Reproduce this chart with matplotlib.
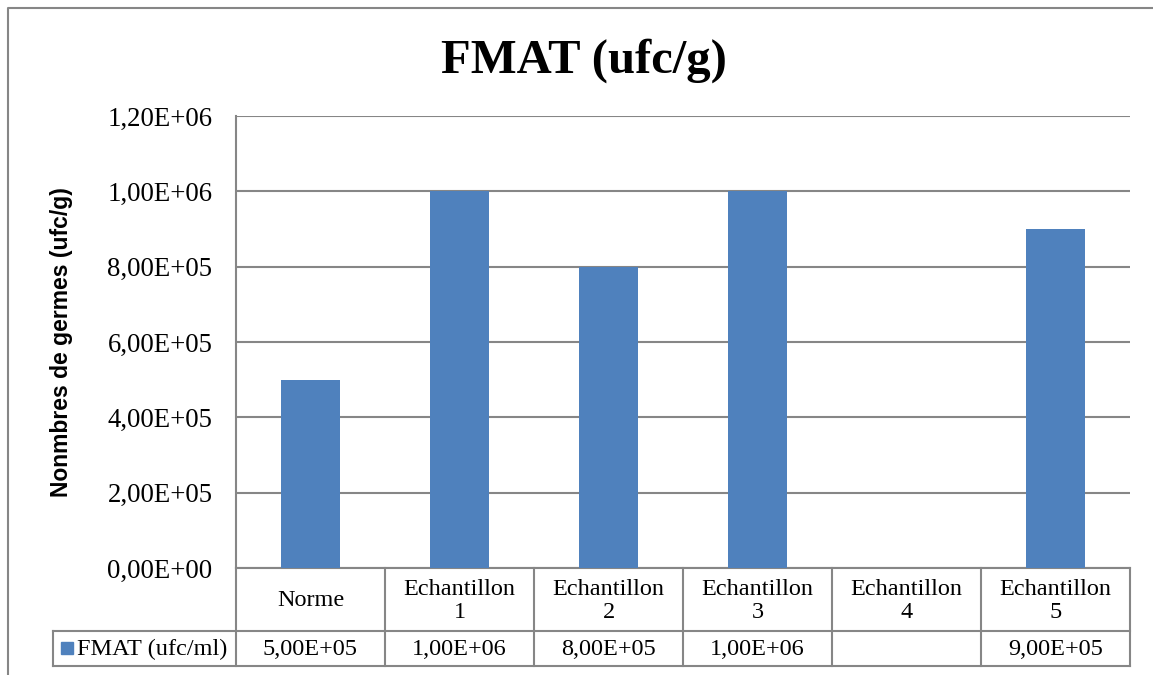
import numpy as np
import matplotlib
matplotlib.use("Agg")
import matplotlib.pyplot as plt
from matplotlib.lines import Line2D
from matplotlib.patches import Rectangle
from matplotlib.ticker import FixedLocator, FuncFormatter

# Data
categories = ["Norme", "Echantillon\n1", "Echantillon\n2", "Echantillon\n3",
              "Echantillon\n4", "Echantillon\n5"]
fmat_values = [5.0e5, 1.0e6, 8.0e5, 1.0e6, np.nan, 9.0e5]
series_name = "FMAT (ufc/ml)"
y_ticks = [0, 2e5, 4e5, 6e5, 8e5, 1.0e6, 1.2e6]

title = "FMAT (ufc/g)"
y_label = "Nonmbres de germes (ufc/g)"

BAR_COLOR = "#4F81BD"
GRID_COLOR = "#868686"
SERIF = ["Liberation Serif", "DejaVu Serif"]
SANS = ["Liberation Sans", "DejaVu Sans"]


def sci_fr(v):
    return f"{v:.2E}".replace(".", ",")


W, H = 1153, 675
fig = plt.figure(figsize=(W / 100, H / 100), dpi=100)
fig.patch.set_facecolor("white")


def fx(px):
    return px / W


def fy(py):
    return 1 - py / H


# Outer chart frame
fig.add_artist(Line2D([fx(8), fx(8), fx(W + 5)], [fy(H + 5), fy(8), fy(8)],
                      transform=fig.transFigure, color=GRID_COLOR, lw=1.5))

left, right, top, bottom = 236, 1130, 116, 568
ax = fig.add_axes([fx(left), fy(bottom), fx(right) - fx(left), fy(top) - fy(bottom)])

n = len(categories)
x = np.arange(n)
ax.bar(x, fmat_values, width=0.4, color=BAR_COLOR, zorder=3)

ax.set_xlim(-0.5, n - 0.5)
ax.set_ylim(0, 1.2e6)
ax.yaxis.set_major_locator(FixedLocator(y_ticks))
ax.yaxis.set_major_formatter(FuncFormatter(lambda v, p: sci_fr(v)))
ax.set_xticks([])
ax.tick_params(axis="y", length=0, pad=17, labelsize=19.3)
for lab in ax.get_yticklabels():
    lab.set_fontfamily(SERIF)
ax.grid(axis="y", color=GRID_COLOR, lw=1.5, zorder=0)
for s in ["top", "right", "bottom"]:
    ax.spines[s].set_visible(False)
ax.spines["left"].set_color(GRID_COLOR)
ax.spines["left"].set_linewidth(1.5)

fig.text(fx(584), fy(73), title, ha="center", va="baseline",
         fontsize=35, fontweight="bold", family=SERIF)
fig.text(fx(62), fy(342), y_label, ha="center", va="center", rotation=90,
         fontsize=16.5, fontweight="bold", family=SANS)

# Data table below the plot area
trans = ax.get_xaxis_transform()
plot_h = bottom - top


def ay(py):
    return (bottom - py) / plot_h


row1_bot, row2_bot = 631, 666
legend_left = 53
line_kw = dict(color=GRID_COLOR, lw=1.5, clip_on=False)

edges = np.arange(n + 1) - 0.5
for e in edges:
    ax.plot([e, e], [ay(bottom), ay(row2_bot)], transform=trans, **line_kw)
ax.plot([-0.5, n - 0.5], [ay(bottom), ay(bottom)], transform=trans, **line_kw)
fig.add_artist(Line2D([fx(legend_left), fx(right)], [fy(row1_bot), fy(row1_bot)],
                      transform=fig.transFigure, color=GRID_COLOR, lw=1.5))
fig.add_artist(Line2D([fx(legend_left), fx(right)], [fy(row2_bot), fy(row2_bot)],
                      transform=fig.transFigure, color=GRID_COLOR, lw=1.5))
fig.add_artist(Line2D([fx(legend_left), fx(legend_left)], [fy(row1_bot), fy(row2_bot)],
                      transform=fig.transFigure, color=GRID_COLOR, lw=1.5))

for xi, cat in zip(x, categories):
    ax.text(xi, ay((bottom + row1_bot) / 2 + 1.5), cat, transform=trans, ha="center",
            va="center", fontsize=17.5, family=SERIF, linespacing=1.12, clip_on=False)
for xi, v in zip(x, fmat_values):
    if not np.isnan(v):
        ax.text(xi, ay((row1_bot + row2_bot) / 2 + 1), sci_fr(v), transform=trans,
                ha="center", va="center", fontsize=17.5, family=SERIF, clip_on=False)

# Legend key inside the table
fig.add_artist(Rectangle((fx(61), fy(654)), fx(12), fy(642) - fy(654),
                         transform=fig.transFigure, color=BAR_COLOR))
fig.text(fx(77), fy(649.5), series_name, ha="left", va="center",
         fontsize=17.5, family=SERIF)

fig.savefig("out.png", dpi=100, facecolor="white")
